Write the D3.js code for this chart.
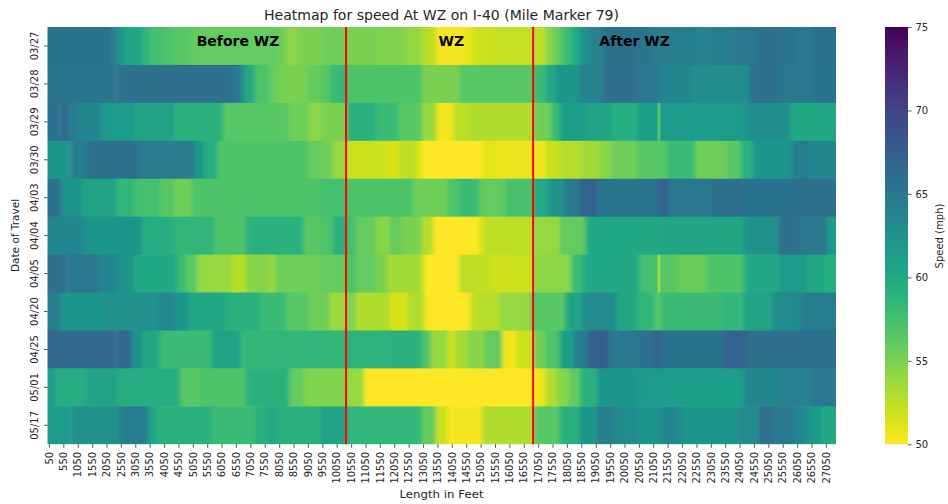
<!DOCTYPE html>
<html>
<head>
<meta charset="utf-8">
<script src="https://cdn.jsdelivr.net/npm/d3@7"></script>
<style>
    html, body { margin: 0; padding: 0; background: #fff; }
    svg { display: block; }
    text { font-family: "DejaVu Sans", sans-serif; fill: #262626; }
</style>
</head>
<body>
<div id="chart"></div>
<script>
const dates = ["03/27", "03/28", "03/29", "03/30", "04/03", "04/04", "04/05", "04/20", "04/25", "05/01", "05/17"];

// each row: [start of the stretch in feet, speed in mph]
const row0327 = [[0,65.5],[2300,64.5],[2400,63],[2500,61.5],[2700,60.5],[3000,60],[3300,58.5],[3600,57.5],[4000,57],[4400,56.5],[5000,56],[7000,56],[8000,55.5],[8300,54.3],[8700,55],[9500,55.5],[10400,55],[11500,54.7],[12500,54],[13000,53],[13200,52.5],[13500,50.3],[14500,51],[14800,52],[15500,52.2],[16800,52.5],[17300,54.5],[17600,56],[17900,58],[18200,60],[18500,62],[18800,64],[19300,65.7],[20500,65.3],[21000,64.7],[21600,64.3],[22500,64],[23000,64.3],[23800,65],[24600,66],[25500,65.5],[26000,65],[26500,65.7]];
const row0328 = [[0,65.3],[2400,66],[6400,65],[6700,63.5],[6800,61],[6900,60],[7200,57],[7700,56],[8000,55],[9000,56],[9500,56.5],[9800,58],[10150,58.5],[10400,57],[13000,55],[14300,56.5],[16900,58],[17300,60],[17700,62],[18500,64],[19300,66],[20500,65],[21300,63.5],[22400,62.8],[24400,66],[25400,65],[26600,65.5]];
const row0329 = [[0,65.5],[500,67],[700,64.5],[1100,63.5],[1900,61.5],[3000,60.5],[4400,59],[6100,56.5],[8400,55.5],[9100,54.3],[9500,55],[10400,59],[11400,58],[12200,56.5],[13000,54],[13500,50.5],[14100,52.5],[14600,53],[16900,55.5],[17500,58],[17800,61],[18700,60.5],[19600,59.5],[20500,61],[21300,61.5],[24300,62.7],[25800,60]];
const row0330 = [[0,62],[800,64.5],[1400,66],[3200,64.7],[5100,62],[5400,59.5],[5900,57],[9000,56],[9500,55.5],[9900,54],[10400,52],[11800,51.5],[12200,52.5],[12800,51.5],[13000,50],[15100,51],[15600,50.8],[16900,50.5],[17300,52],[17800,52.8],[18500,53.5],[19200,54.5],[19600,55.5],[20500,56.5],[21500,58],[22500,55.5],[23600,56.5],[24100,59],[24500,62],[25900,64.5],[26500,63.5]];
const row0403 = [[0,65.5],[500,62],[1200,60.5],[2400,58.5],[3000,57.5],[3900,56.5],[4400,55.5],[5000,57],[9500,57.5],[10400,57],[12700,55.5],[13900,57],[14300,58],[15000,56],[15900,57.3],[16900,60],[17400,62.5],[18000,65],[18500,67],[19100,65.3],[21200,67],[21600,65],[23000,66],[24200,65.5],[26000,66]];
const row0404 = [[0,63.5],[1300,62],[3300,59.5],[4400,58.5],[5800,57],[6900,59],[8900,56.5],[9500,57],[9900,59],[10400,57.5],[10700,56],[11400,54.5],[11900,56],[12300,55],[13000,53],[13400,50],[15000,51.5],[15200,52.5],[16900,54],[17800,56],[18700,60],[21300,60.3],[24200,62.5],[25400,66],[26100,65],[27100,61.5]];
const row0405 = [[0,66],[700,65],[1800,63.5],[2500,62],[3000,60],[4500,58],[4800,56.5],[5200,54],[6400,52.8],[6900,54.5],[7700,53.8],[7900,55.5],[9500,56],[10400,57],[10700,56],[11400,55],[11800,53.5],[13000,52],[13100,50],[14300,52.5],[14800,52.3],[15400,51.8],[15900,52],[16900,54.3],[18200,58],[18600,60],[20500,59],[20600,57.5],[21300,56.5],[21900,55.7],[22900,57],[24200,60],[25400,61.5],[26400,60],[27000,59.5]];
const row0420 = [[0,64.3],[500,62],[2000,62.5],[3900,63.5],[4400,62],[4900,60],[6200,59],[7400,58],[8300,56.5],[9100,55.5],[9800,53.8],[10400,55],[10700,53],[11900,51.5],[12500,53],[13100,50],[14700,52.5],[15000,52.7],[15700,54],[16800,56.5],[18000,60.5],[18600,63],[19800,60],[20500,58.5],[21100,56.5],[21300,58],[23400,58.5],[24200,60.5],[25200,63],[26200,64.5]];
const row0425 = [[0,66.5],[2400,66.8],[2900,62.5],[3300,60],[3900,58],[5700,60.5],[6700,58.5],[10400,58.8],[11700,59],[13000,57],[13300,54],[13900,52],[14200,53.5],[14600,54.5],[15200,56],[15800,50.5],[16300,52],[16900,55.5],[17300,57],[17800,61],[18300,64.5],[18800,67.5],[19500,65],[20500,65.5],[20900,66.5],[21200,68],[21300,65.5],[23500,67],[24300,65.8]];
const row0501 = [[0,61],[300,59.5],[1400,60.5],[2400,59.5],[4600,56.5],[5300,57],[6900,59],[8400,56],[8900,54.8],[10400,54],[11000,50],[16900,50.5],[17300,53],[17700,54.5],[18100,56],[18500,59],[19100,62],[20500,61.5],[21400,61],[24200,63.5],[25400,64],[26600,65]];
const row0517 = [[0,61.5],[800,62.5],[2500,64.5],[3500,60.5],[3800,59],[5700,58],[7200,59],[7600,60],[8000,59],[9500,60.5],[10400,58.5],[13000,56],[13500,52],[13900,50.3],[15100,53],[16900,56.5],[17800,59],[18500,62],[19100,64.5],[19700,63],[20500,62],[21300,63.5],[22000,62],[24000,63],[24700,66],[25200,65],[25900,63.5],[26400,61.5],[26900,60]];
const speedRows = [row0327, row0328, row0329, row0330, row0403, row0404, row0405, row0420, row0425, row0501, row0517];

// single slow cells that stand out from their row
const spikeDates = ["03/29", "04/05"];
const spikeFeet = [21200, 21200];
const spikeSpeeds = [56.5, 53.5];

const lengthMax = 27400;
const wzBounds = [10375, 16875];
const lengthTicks = d3.range(50, 27051, 500);
const speedTicks = [50, 55, 60, 65, 70, 75];
const zoneLabels = [
    {text: "Before WZ", feet: 6620},
    {text: "WZ", feet: 14030},
    {text: "After WZ", feet: 20400}
];

const width = 948, height = 504;
const plot = {left: 47.5, right: 836, top: 27, bottom: 444.3};
const bar = {left: 885, right: 908};

const svg = d3.select("#chart").append("svg")
    .attr("width", width)
    .attr("height", height);

const x = d3.scaleLinear().domain([0, lengthMax]).range([plot.left, plot.right]);
const y = d3.scaleBand().domain(dates).range([plot.top, plot.bottom]);
const color = d3.scaleSequential(t => d3.interpolateViridis(1 - t)).domain([50, 75]);

const defs = svg.append("defs");
defs.append("clipPath").attr("id", "plot-clip")
    .append("rect")
    .attr("x", plot.left)
    .attr("y", plot.top)
    .attr("width", plot.right - plot.left)
    .attr("height", plot.bottom - plot.top);

// the reference image was resampled along the length, soften only that way
defs.append("filter").attr("id", "soften")
    .attr("filterUnits", "userSpaceOnUse")
    .attr("x", 0).attr("y", -1).attr("width", width).attr("height", 44)
    .append("feGaussianBlur")
    .attr("stdDeviation", "2 0");

// Heatmap
const heat = svg.append("g").attr("clip-path", "url(#plot-clip)");
const bleed = 12;

const rows = heat.selectAll("g")
    .data(speedRows)
    .enter()
    .append("g")
    .attr("transform", (d, i) => "translate(0," + y(dates[i]) + ")")
    .attr("filter", "url(#soften)");

rows.selectAll("rect")
    .data(d => d.map((run, i) => ({
        start: run[0],
        end: i + 1 < d.length ? d[i + 1][0] : lengthMax,
        speed: run[1]
    })))
    .enter()
    .append("rect")
    .attr("x", d => x(d.start) - (d.start === 0 ? bleed : 0))
    .attr("y", 0)
    .attr("width", d => x(d.end) - x(d.start) + (d.start === 0 || d.end === lengthMax ? bleed : 0.5))
    .attr("height", y.bandwidth() + 0.5)
    .attr("fill", d => color(d.speed));

heat.selectAll("rect.spike")
    .data(spikeDates)
    .enter()
    .append("rect")
    .attr("class", "spike")
    .attr("x", (d, i) => x(spikeFeet[i]))
    .attr("y", d => y(d))
    .attr("width", x(100) - x(0))
    .attr("height", y.bandwidth())
    .attr("fill", (d, i) => color(spikeSpeeds[i]));

// X axis
const xAxis = svg.append("g")
    .attr("transform", "translate(0," + plot.bottom + ")")
    .call(d3.axisBottom(x).tickValues(lengthTicks).tickFormat(d3.format("d")).tickSize(3.5).tickPadding(2));
xAxis.select(".domain").remove();
xAxis.selectAll("line").attr("stroke", "#262626").attr("stroke-width", 0.8);
xAxis.selectAll("text")
    .attr("font-size", 10)
    .attr("font-family", null)
    .attr("transform", "rotate(-90)")
    .attr("x", -7.5)
    .attr("y", 0)
    .attr("dy", "0.32em")
    .style("text-anchor", "end");

// Y axis
const yAxis = svg.append("g")
    .attr("transform", "translate(" + plot.left + ",0)")
    .call(d3.axisLeft(y).tickSize(3.5).tickPadding(2));
yAxis.select(".domain").remove();
yAxis.selectAll("line").attr("stroke", "#262626").attr("stroke-width", 0.8);
yAxis.selectAll("text")
    .attr("font-size", 10)
    .attr("font-family", null)
    .attr("transform", "rotate(-90)")
    .attr("x", 0)
    .attr("y", -10)
    .attr("dy", 0)
    .style("text-anchor", "middle");

// Work zone limits
svg.selectAll("line.wz")
    .data(wzBounds)
    .enter()
    .append("line")
    .attr("class", "wz")
    .attr("x1", d => x(d))
    .attr("x2", d => x(d))
    .attr("y1", plot.top)
    .attr("y2", plot.bottom)
    .attr("stroke", "red")
    .attr("stroke-width", 2);

svg.selectAll("text.zone")
    .data(zoneLabels)
    .enter()
    .append("text")
    .attr("class", "zone")
    .attr("x", d => x(d.feet))
    .attr("y", 46)
    .attr("text-anchor", "middle")
    .attr("font-size", 14)
    .attr("font-weight", "bold")
    .style("fill", "#000")
    .text(d => d.text);

// Title and axis labels
svg.append("text")
    .attr("x", 441.5)
    .attr("y", 20)
    .attr("text-anchor", "middle")
    .attr("font-size", 13.5)
    .attr("textLength", 355)
    .attr("lengthAdjust", "spacingAndGlyphs")
    .text("Heatmap for speed At WZ on I-40 (Mile Marker 79)");

svg.append("text")
    .attr("x", 441.5)
    .attr("y", 498)
    .attr("text-anchor", "middle")
    .attr("font-size", 10.5)
    .attr("textLength", 84)
    .attr("lengthAdjust", "spacingAndGlyphs")
    .text("Length in Feet");

svg.append("text")
    .attr("transform", "translate(19,235.5)rotate(-90)")
    .attr("text-anchor", "middle")
    .attr("font-size", 10.5)
    .text("Date of Travel");

// Colorbar
const barY = d3.scaleLinear().domain([50, 75]).range([plot.bottom, plot.top]);
const barGradient = defs.append("linearGradient").attr("id", "bar-gradient")
    .attr("x1", 0).attr("x2", 0).attr("y1", 1).attr("y2", 0);
barGradient.selectAll("stop")
    .data(d3.range(50, 75.01, 1))
    .enter()
    .append("stop")
    .attr("offset", d => (d - 50) / 25)
    .attr("stop-color", d => color(d));

svg.append("rect")
    .attr("x", bar.left)
    .attr("y", plot.top)
    .attr("width", bar.right - bar.left)
    .attr("height", plot.bottom - plot.top)
    .attr("fill", "url(#bar-gradient)");

const barAxis = svg.append("g")
    .attr("transform", "translate(" + bar.right + ",0)")
    .call(d3.axisRight(barY).tickValues(speedTicks).tickSize(3.5).tickPadding(4));
barAxis.select(".domain").remove();
barAxis.selectAll("line").attr("stroke", "#262626").attr("stroke-width", 0.8);
barAxis.selectAll("text")
    .attr("font-size", 10)
    .attr("font-family", null);

svg.append("text")
    .attr("transform", "translate(943,236)rotate(-90)")
    .attr("text-anchor", "middle")
    .attr("font-size", 10)
    .text("Speed (mph)");
</script>
</body>
</html>
